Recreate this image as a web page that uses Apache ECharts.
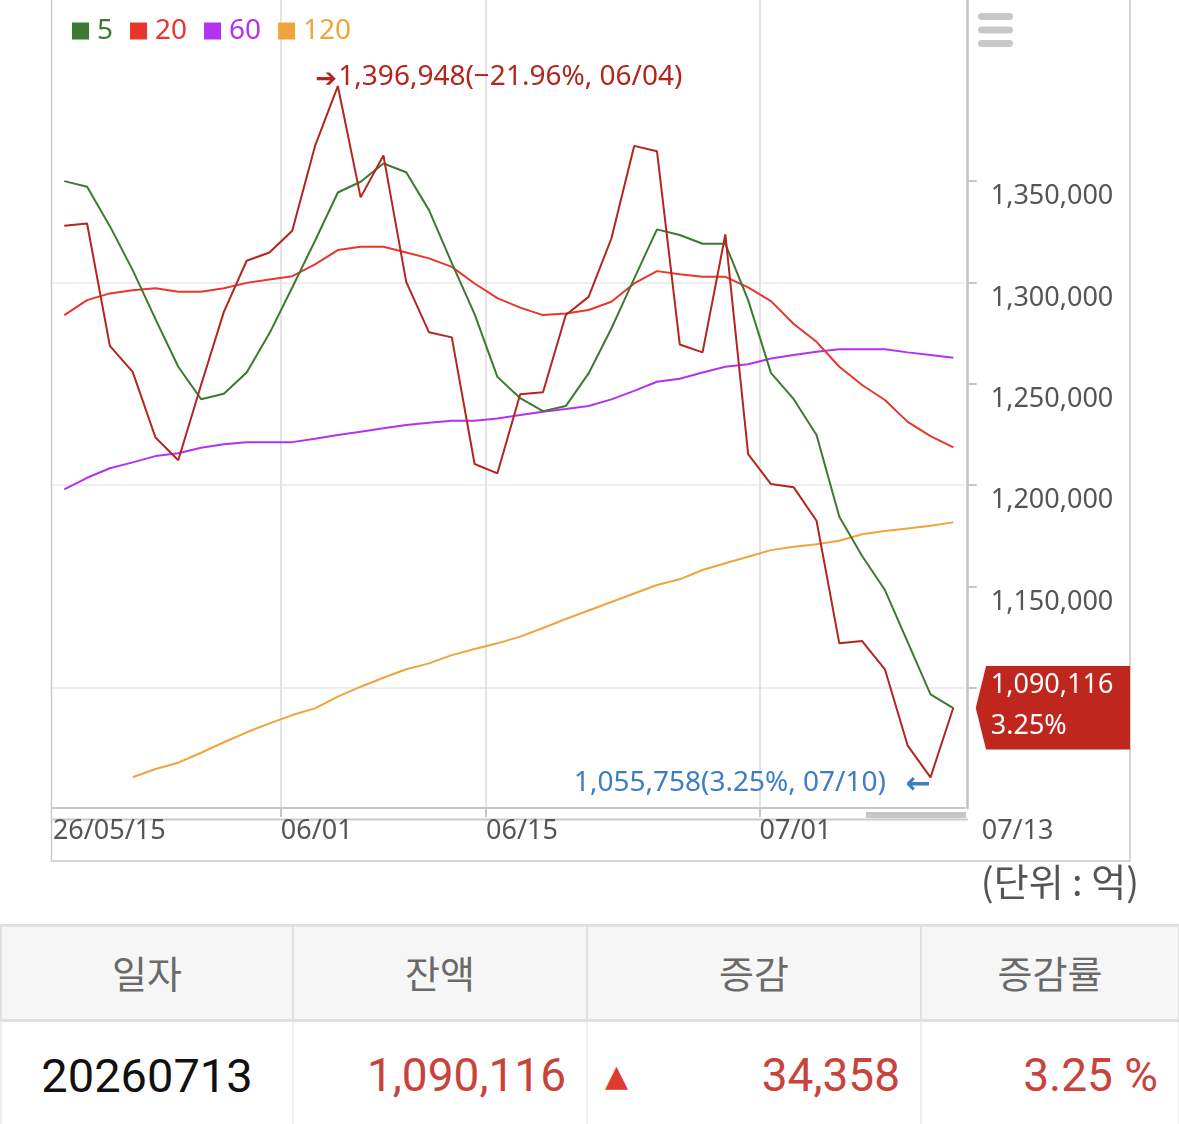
<!DOCTYPE html>
<html>
<head>
<meta charset="utf-8">
<title>잔액 추이</title>
<script src="https://cdn.jsdelivr.net/npm/echarts@6.0.0/dist/echarts.min.js"></script>
<style>
	body { margin: 0; background: #fff; }
	#main { width: 1179px; height: 924px; }
	table.info { border-collapse: collapse; table-layout: fixed; width: 1178px; }
	table.info th {
		height: 87px; background: #f6f6f6; color: #6a6a6a; font-weight: normal;
		font-family: 'Noto Sans CJK KR', sans-serif; font-size: 38px; line-height: 1;
		border: 3px solid #e0e0e0; border-left-width: 2px; border-right-width: 2px;
		padding-bottom: 4px;
	}
	table.info td {
		height: 106px; border: 2px solid #ededed; border-top: none;
		font-family: Roboto, sans-serif; font-size: 46px; color: #c8433b;
		text-align: right; padding: 0 20px;
	}
	table.info td.date { text-align: center; color: #111; padding: 0; font-size: 47px; }
	table.info td .chg { display: flex; justify-content: space-between; align-items: center; }
	table.info td .tri { font-family: 'DejaVu Sans', sans-serif; font-size: 30px; color: #e03a2c; margin-left: -3px; }
</style>
</head>
<body>
<div id="main"></div>
<table class="info">
	<colgroup><col style="width:292px"><col style="width:294px"><col style="width:334px"><col style="width:258px"></colgroup>
	<tr><th>일자</th><th>잔액</th><th>증감</th><th>증감률</th></tr>
	<tr>
		<td class="date" id="cDate"></td>
		<td id="cBal"></td>
		<td><div class="chg"><span class="tri">▲</span><span id="cChg"></span></div></td>
		<td id="cRate"></td>
	</tr>
</table>
<script>
	// trading days (yy/mm/dd)
	var dates = ['26/05/15','26/05/18','26/05/19','26/05/20','26/05/21','26/05/22','26/05/26','26/05/27','26/05/28','26/05/29',
		'26/06/01','26/06/02','26/06/04','26/06/05','26/06/08','26/06/09','26/06/10','26/06/11','26/06/12','26/06/15',
		'26/06/16','26/06/17','26/06/18','26/06/19','26/06/22','26/06/23','26/06/24','26/06/25','26/06/26','26/06/29',
		'26/06/30','26/07/01','26/07/02','26/07/03','26/07/06','26/07/07','26/07/08','26/07/09','26/07/10','26/07/13'];

	// daily balance
	var balance = [1328000,1329100,1268700,1255900,1223500,1212300,1249400,1285500,1310700,1314800,
		1325500,1367400,1396948,1342000,1362700,1300300,1275400,1272900,1210400,1205800,
		1244800,1245800,1283900,1292900,1321700,1367400,1364800,1269400,1265500,1323700,
		1215300,1200500,1198900,1182400,1121900,1123000,1109100,1071400,1055758,1090116];

	var ma5 = [1350000,1347200,1327800,1306100,1281900,1258400,1242400,1245100,1255600,1274900,
		1297500,1320600,1344400,1349700,1358700,1354400,1335700,1309500,1284400,1253400,
		1242900,1236500,1239000,1255100,1277300,1301900,1326200,1323400,1319100,1319100,
		1291300,1255400,1242400,1224700,1184400,1165000,1148200,1122500,1096700,1089900];

	var ma20 = [1283900,1291300,1294600,1296200,1297100,1295400,1295400,1297100,1299800,1301500,
		1303100,1308900,1316000,1317600,1317600,1314800,1311900,1307700,1299500,1292300,
		1287600,1283900,1284700,1286400,1290500,1299500,1305600,1304100,1302800,1302800,
		1297600,1290800,1279500,1270700,1258400,1249400,1242000,1231200,1224200,1218600];

	var ma60 = [1197900,1203600,1208300,1211200,1214300,1215700,1218400,1220100,1221200,1221200,
		1221200,1222900,1224700,1226300,1228000,1229600,1230800,1231700,1231700,1232900,
		1234600,1236200,1237500,1239000,1242300,1246500,1251000,1252500,1255600,1258400,
		1259600,1262500,1264200,1265800,1267000,1267000,1267000,1265500,1264200,1262800];

	var ma120 = [null,null,null,1055800,1059900,1063000,1067900,1073100,1078000,1082400,
		1086500,1089800,1095600,1100500,1104900,1109100,1112000,1116100,1119100,1121900,
		1125200,1129500,1133900,1138100,1142300,1146500,1150700,1153500,1158100,1161400,
		1164600,1167900,1169600,1170800,1172500,1175700,1177300,1178600,1179900,1181600];

	// axis ticks / labels
	var xTickIdx = [10, 19, 31];
	var xLabelIdx = [0, 10, 19, 31, 40];
	var yTicks = [1100000, 1150000, 1200000, 1250000, 1300000, 1350000];
	var yLabels = [1150000, 1200000, 1250000, 1300000, 1350000];
	var yGrid = [1100000, 1200000, 1300000];

	var C5 = '#3b7a2f', C20 = '#e8362c', C60 = '#b332ef', C120 = '#f1a33c';
	var CD = '#b3251e', CB = '#3d7cc8';
	var FONT = "'Noto Sans', 'Noto Sans CJK KR', sans-serif";

	function fmt(n) { return Math.round(n).toLocaleString('en-US'); }
	function pct(a, b) { return ((a / b - 1) * 100).toFixed(2).replace('-', '−'); }

	var last = balance.length - 1;
	var lastVal = balance[last], prevVal = balance[last - 1];
	var maxVal = Math.max.apply(null, balance), maxIdx = balance.indexOf(maxVal);
	var minVal = Math.min.apply(null, balance), minIdx = balance.indexOf(minVal);

	var yMin = 1040640, yMax = 1439400;

	var chart = echarts.init(document.getElementById('main'));
	var option = {
		animation: false,
		textStyle: { fontFamily: FONT },
		legend: {
			left: 72, top: 17, padding: 0, icon: 'rect', itemWidth: 17, itemHeight: 17, itemGap: 17,
			selectedMode: false,
			textStyle: { fontSize: 28, fontFamily: FONT, padding: [0, 0, 0, 3] },
			data: [
				{ name: '5', textStyle: { color: C5 } },
				{ name: '20', textStyle: { color: C20 } },
				{ name: '60', textStyle: { color: C60 } },
				{ name: '120', textStyle: { color: C120 } }
			]
		},
		grid: { left: 52.9, top: 0, width: 911.8, height: 808, containLabel: false, outerBoundsMode: 'none' },
		xAxis: [
			{ type: 'category', data: dates, boundaryGap: true, show: false },
			{
				type: 'value', min: 0, max: dates.length, position: 'bottom',
				axisLine: { show: true, onZero: false, lineStyle: { color: '#c6c6c6', width: 2 } },
				axisTick: { show: true, customValues: xTickIdx, length: 9, lineStyle: { color: '#c6c6c6', width: 2 } },
				axisLabel: {
					customValues: xLabelIdx, align: 'left', margin: 10, fontSize: 27, color: '#555', fontFamily: FONT,
					formatter: function (v) {
						if (v >= dates.length) return '{end|' + dates[dates.length - 1].slice(3) + '}';
						return v === 0 ? dates[0] : dates[v].slice(3);
					},
					rich: { end: { padding: [0, 0, 0, 17], fontSize: 27, color: '#555', fontFamily: FONT } }
				},
				splitLine: { show: true, lineStyle: { color: '#e3e3e3', width: 2 } }
			}
		],
		yAxis: [
			{
				type: 'value', position: 'right', offset: 3, min: yMin, max: yMax,
				axisLine: { show: true, onZero: false, lineStyle: { color: '#c2c2c2', width: 2.5 } },
				axisTick: { show: true, customValues: yTicks, length: 9, lineStyle: { color: '#c6c6c6', width: 2 } },
				axisLabel: {
					customValues: yLabels, margin: 23, align: 'left', verticalAlign: 'top', padding: [2, 0, 0, 0],
					fontSize: 27, color: '#555', fontFamily: FONT, formatter: fmt
				},
				splitLine: { show: false }
			},
			{
				type: 'value', position: 'right', min: yMin, max: yMax,
				axisLine: { show: false, onZero: false },
				axisTick: { show: false, customValues: yGrid },
				axisLabel: { show: false },
				splitLine: { show: true, lineStyle: { color: '#ededed', width: 2 } }
			}
		],
		series: [
			{ name: '120', type: 'line', data: ma120, showSymbol: false, symbol: 'none', itemStyle: { color: C120 }, lineStyle: { color: C120, width: 2 } },
			{ name: '60', type: 'line', data: ma60, showSymbol: false, symbol: 'none', itemStyle: { color: C60 }, lineStyle: { color: C60, width: 2 } },
			{ name: '20', type: 'line', data: ma20, showSymbol: false, symbol: 'none', itemStyle: { color: C20 }, lineStyle: { color: C20, width: 2 } },
			{ name: '5', type: 'line', data: ma5, showSymbol: false, symbol: 'none', itemStyle: { color: C5 }, lineStyle: { color: C5, width: 2 } },
			{
				name: '잔액', type: 'line', data: balance, showSymbol: false, symbol: 'none', clip: false, z: 3,
				itemStyle: { color: CD }, lineStyle: { color: CD, width: 2 },
				markPoint: {
					silent: true,
					data: [
						{
							coord: [maxIdx, maxVal], symbol: 'rect', symbolSize: 1, itemStyle: { color: 'rgba(0,0,0,0)' },
							label: {
								show: true, position: [-22, -8], align: 'left', verticalAlign: 'middle',
								formatter: '{a|➔}{t|' + fmt(maxVal) + '(' + pct(lastVal, maxVal) + '%, ' + dates[maxIdx].slice(3) + ')}',
								rich: {
									a: { fontFamily: 'DejaVu Sans', fontWeight: 'bold', fontSize: 26, color: CD, width: 23, padding: [5, 0, 0, 0] },
									t: { fontFamily: FONT, fontSize: 28, color: CD }
								}
							}
						},
						{
							coord: [minIdx, minVal], symbol: 'rect', symbolSize: 1, itemStyle: { color: 'rgba(0,0,0,0)' },
							label: {
								show: true, position: [1, 6], align: 'right', verticalAlign: 'middle',
								formatter: '{t|' + fmt(minVal) + '(' + pct(lastVal, minVal) + '%, ' + dates[minIdx].slice(3) + ')}{a|←}',
								rich: {
									t: { fontFamily: FONT, fontSize: 28, color: CB },
									a: { fontFamily: 'DejaVu Sans', fontWeight: 'bold', fontSize: 30, color: CB, padding: [5, 0, 0, 20] }
								}
							}
						},
						{
							coord: [last, lastVal],
							symbol: 'path://M0,42L10.3,0L154.3,0L154.3,83.3L10.3,83.3Z',
							symbolSize: [154.3, 83.3], symbolOffset: [99.6, 0],
							itemStyle: { color: '#bf261e' },
							label: {
								show: true, position: [15, 40], align: 'left', verticalAlign: 'middle',
								lineHeight: 41, fontSize: 27, color: '#fff', fontFamily: FONT,
								formatter: fmt(lastVal) + '\n' + pct(lastVal, prevVal) + '%'
							}
						}
					]
				}
			}
		],
		graphic: [
			{ type: 'rect', silent: true, z: -10, shape: { x: 51.5, y: -5, width: 1078.5, height: 866 }, style: { fill: 'none', stroke: '#c9c9c9', lineWidth: 1.5 } },
			{ type: 'line', silent: true, shape: { x1: 52, y1: 819.5, x2: 968, y2: 819.5 }, style: { stroke: '#cacaca', lineWidth: 2 } },
			{ type: 'rect', silent: true, shape: { x: 866, y: 812, width: 100, height: 6 }, style: { fill: '#c6c6c6' } },
			{ type: 'rect', silent: true, shape: { x: 978, y: 13, width: 35, height: 7, r: 3.5 }, style: { fill: '#c8c8c8' } },
			{ type: 'rect', silent: true, shape: { x: 978, y: 26.5, width: 35, height: 7, r: 3.5 }, style: { fill: '#c8c8c8' } },
			{ type: 'rect', silent: true, shape: { x: 978, y: 40, width: 35, height: 7, r: 3.5 }, style: { fill: '#c8c8c8' } },
			{ type: 'text', silent: true, x: 1139, y: 882, style: { text: '(단위 : 억)', fontFamily: "'Noto Sans CJK KR', sans-serif", fontSize: 38, fill: '#555', align: 'right', verticalAlign: 'middle' } }
		]
	};
	chart.setOption(option);

	// latest row of the table
	document.getElementById('cDate').textContent = '20' + dates[last].replace(/\//g, '');
	document.getElementById('cBal').textContent = fmt(lastVal);
	document.getElementById('cChg').textContent = fmt(lastVal - prevVal);
	document.getElementById('cRate').textContent = pct(lastVal, prevVal) + ' %';
</script>
</body>
</html>
